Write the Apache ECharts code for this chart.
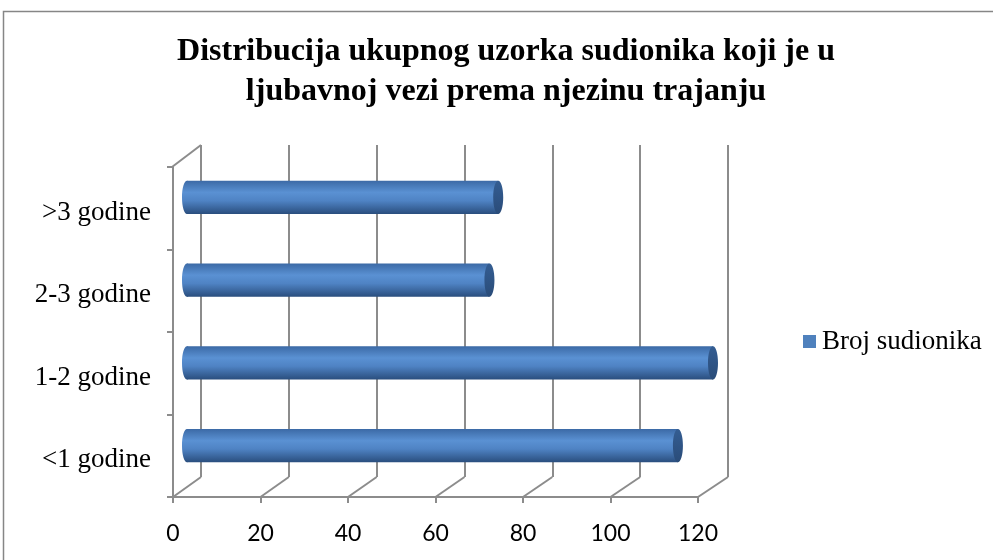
<!DOCTYPE html>
<html>
<head>
<meta charset="utf-8">
<script src="https://cdn.jsdelivr.net/npm/echarts@6/dist/echarts.min.js"></script>
<style>
  html, body { margin: 0; padding: 0; background: #fff; }
  #chart { width: 993px; height: 560px; }
</style>
</head>
<body>
<div id="chart"></div>
<script>
// data
var categories = ['<1 godine', '1-2 godine', '2-3 godine', '>3 godine'];
var seriesName = 'Broj sudionika';
var values = [112, 120, 69, 71];
var xTicks = [0, 20, 40, 60, 80, 100, 120];

var W = 993, H = 560;
// front plane, back wall, and the middle depth where the cylinders sit
var front = { l: 173, r: 698, t: 167, b: 497 };
var back = { l: 201, r: 728, t: 145, b: 477 };
var mid = { l: 187, r: 713, t: 156, b: 487 };

var gridLine = '#8c8c8c';

function gridOf(p) {
  return { left: p.l, right: W - p.r, top: p.t, bottom: H - p.b, containLabel: false };
}

function bodyFill() {
  return new echarts.graphic.LinearGradient(0, 0, 0, 1, [
    { offset: 0, color: '#3c6aa6' },
    { offset: 0.35, color: '#5a91d3' },
    { offset: 0.6, color: '#4f83c4' },
    { offset: 1, color: '#2a4e7e' }
  ]);
}

function renderCylinder(params, api) {
  var v = api.value(0), c = api.value(1);
  var s = api.coord([0, c]);
  var e = api.coord([v, c]);
  var h = api.size([0, 1])[1] * 0.4;
  var rx = 5, ry = h / 2;
  return {
    type: 'group',
    children: [
      { type: 'ellipse', shape: { cx: s[0], cy: s[1], rx: rx, ry: ry }, style: { fill: bodyFill() } },
      { type: 'rect', shape: { x: s[0], y: s[1] - ry, width: e[0] - s[0], height: h }, style: { fill: bodyFill() } },
      {
        type: 'ellipse', shape: { cx: e[0], cy: e[1], rx: rx, ry: ry },
        style: {
          fill: new echarts.graphic.LinearGradient(0, 0, 0, 1, [
            { offset: 0, color: '#345d92' },
            { offset: 1, color: '#2a4c79' }
          ])
        }
      }
    ]
  };
}

var chart = echarts.init(document.getElementById('chart'));

var option = {
  animation: false,
  backgroundColor: '#ffffff',
  legend: {
    data: [{ name: seriesName, icon: 'rect', itemStyle: { color: '#4f81bd' } }],
    left: 803, top: 328, padding: 0,
    itemWidth: 13, itemHeight: 13, itemGap: 6,
    textStyle: { fontFamily: 'Liberation Serif', fontSize: 27, color: '#000', padding: [0, 0, 0, 1] }
  },
  grid: [gridOf(back), gridOf(front), gridOf(mid)],
  xAxis: [
    {
      gridIndex: 0, type: 'value', min: 0, max: 120, interval: 20,
      axisLine: { show: false }, axisTick: { show: false }, axisLabel: { show: false },
      splitLine: { show: true, lineStyle: { color: gridLine, width: 2 } }
    },
    {
      gridIndex: 1, type: 'value', min: 0, max: 120, interval: 20,
      axisLine: { show: true, lineStyle: { color: gridLine, width: 2 } },
      axisTick: { show: true, length: 6, lineStyle: { color: gridLine, width: 2 } },
      axisLabel: { margin: 25, fontFamily: 'Lato', fontSize: 23, color: '#000' },
      splitLine: { show: false }
    },
    {
      gridIndex: 2, type: 'value', min: 0, max: 120, interval: 20, show: false
    }
  ],
  yAxis: [
    { gridIndex: 0, type: 'category', data: categories, show: false },
    {
      gridIndex: 1, type: 'category', data: categories,
      axisLine: { show: true, lineStyle: { color: gridLine, width: 2 } },
      axisTick: { show: true, length: 6, lineStyle: { color: gridLine, width: 2 } },
      axisLabel: {
        margin: 22,
        formatter: '{c|{value}}',
        rich: {
          c: { fontFamily: 'Liberation Serif', fontSize: 27, color: '#000', padding: [9, 0, 0, 0] }
        }
      },
      splitLine: { show: false }
    },
    { gridIndex: 2, type: 'category', data: categories, show: false }
  ],
  series: [
    {
      name: seriesName,
      type: 'custom',
      xAxisIndex: 2, yAxisIndex: 2,
      itemStyle: { color: '#4f81bd' },
      renderItem: renderCylinder,
      encode: { x: 0, y: 1 },
      data: values.map(function (v, i) { return [v, i]; })
    }
  ]
};

chart.setOption(option);

// 3D frame: floor diagonals from front ticks to the back wall, and the side wall top edge
var frame = [];
xTicks.forEach(function (t) {
  var xf = chart.convertToPixel({ xAxisIndex: 1 }, t);
  var xb = chart.convertToPixel({ xAxisIndex: 0 }, t);
  frame.push({
    type: 'line', silent: true,
    shape: { x1: xf, y1: front.b, x2: xb, y2: back.b },
    style: { stroke: gridLine, lineWidth: 2 }
  });
});
frame.push({
  type: 'line', silent: true,
  shape: { x1: front.l - 1, y1: front.t, x2: back.l, y2: back.t },
  style: { stroke: gridLine, lineWidth: 2 }
});
// outer chart border (cropped on the right and bottom)
frame.push({
  type: 'rect', silent: true,
  shape: { x: 3.5, y: 11.5, width: 1100, height: 700 },
  style: { fill: null, stroke: '#868686', lineWidth: 1.5 }
});
// title
frame.push({
  type: 'text', silent: true,
  x: 506, y: 32,
  style: {
    text: 'Distribucija ukupnog uzorka sudionika koji je u\nljubavnoj vezi prema njezinu trajanju',
    fontFamily: 'Liberation Serif', fontWeight: 'bold', fontSize: 32,
    lineHeight: 40, fill: '#000', align: 'center', verticalAlign: 'top'
  }
});

chart.setOption({ graphic: frame });
</script>
</body>
</html>
